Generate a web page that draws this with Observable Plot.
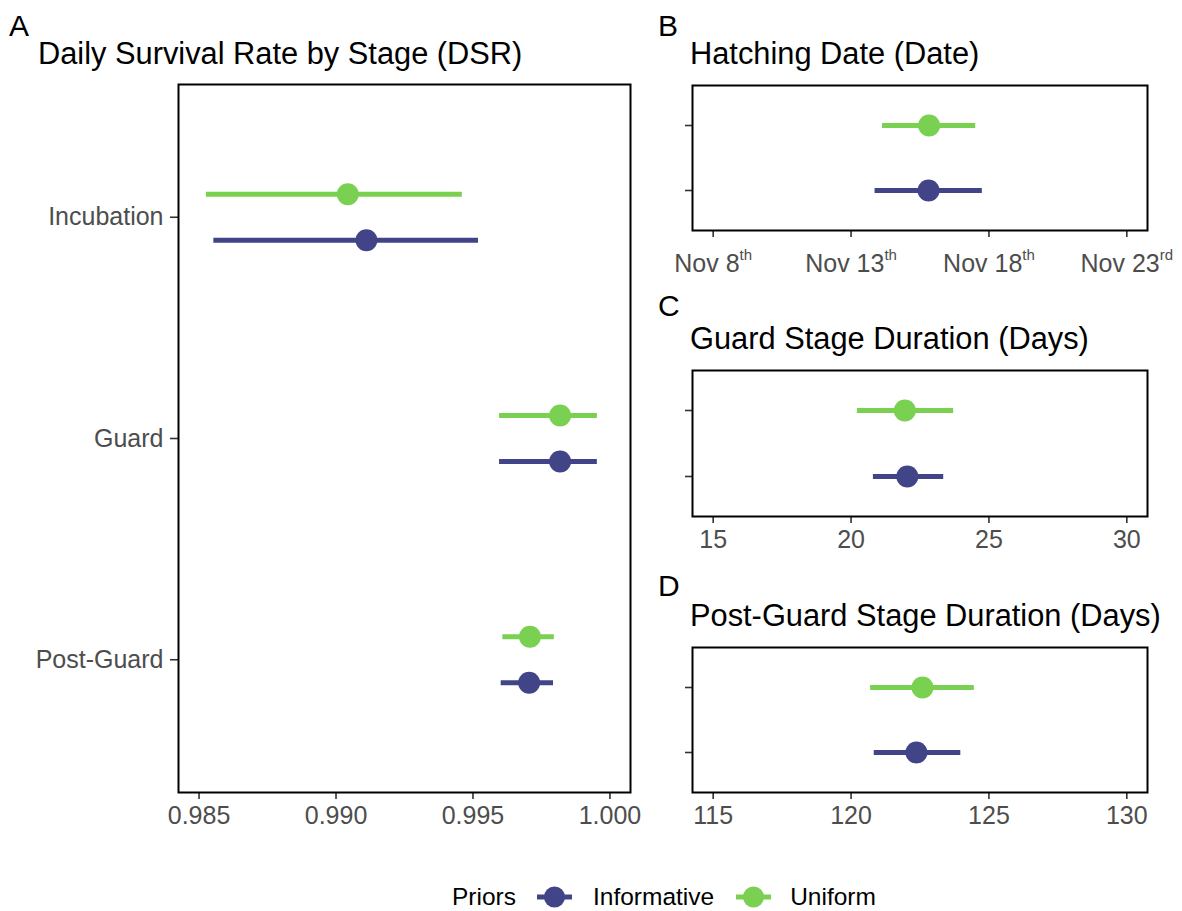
<!DOCTYPE html>
<html><head><meta charset="utf-8">
<script src="https://cdn.jsdelivr.net/npm/d3@7"></script>
<script src="https://cdn.jsdelivr.net/npm/@observablehq/plot@0.6"></script>
<style>
body{margin:0;background:#fff;font-family:"Liberation Sans",Arial,sans-serif;}
#wrap{position:relative;width:1182px;height:911px;overflow:hidden;background:#fff;}
.letter{font-size:30px;line-height:1;color:#000;}
.title{font-size:30.8px;line-height:1;color:#000;white-space:nowrap;}
#legend{position:absolute;left:452px;top:883px;height:28px;display:flex;align-items:center;font-size:24.5px;color:#000;line-height:1;white-space:nowrap;}
</style></head><body><div id="wrap"></div>
<script>
// ---------- data ----------
const priors = ["Informative", "Uniform"];
const priorColors = ["#414487", "#7AD151"];
const stages = ["Incubation", "Guard", "Post-Guard"];

// Panel A: daily survival rate by stage
const dsrStage = ["Incubation", "Incubation", "Guard", "Guard", "Post-Guard", "Post-Guard"];
const dsrPrior = ["Uniform", "Informative", "Uniform", "Informative", "Uniform", "Informative"];
const dsrMean = [0.99043, 0.99111, 0.99818, 0.99818, 0.99708, 0.99705];
const dsrLow  = [0.98527, 0.98554, 0.99597, 0.99597, 0.99609, 0.99603];
const dsrHigh = [0.99461, 0.99520, 0.99954, 0.99954, 0.99797, 0.99794];
const dsrTicks = [0.985, 0.990, 0.995, 1.000];

// Panel B: hatching date (day of November)
const hatchPrior = ["Uniform", "Informative"];
const hatchMean = [15.83, 15.81];
const hatchLow  = [14.14, 13.87];
const hatchHigh = [17.52, 17.76];
const hatchTicks = [8, 13, 18, 23];

// Panel C: guard stage duration (days)
const guardPrior = ["Uniform", "Informative"];
const guardMean = [21.95, 22.04];
const guardLow  = [20.23, 20.81];
const guardHigh = [23.72, 23.36];
const guardTicks = [15, 20, 25, 30];

// Panel D: post-guard stage duration (days)
const postPrior = ["Uniform", "Informative"];
const postMean = [122.59, 122.37];
const postLow  = [120.71, 120.84];
const postHigh = [124.47, 123.98];
const postTicks = [115, 120, 125, 130];

// ---------- helpers ----------
const wrap = document.getElementById("wrap");
const color = {domain: priors, range: priorColors};
const baseStyle = {fontFamily: "Liberation Sans, Arial, sans-serif", fontSize: "25px", color: "#4d4d4d", background: "transparent", overflow: "visible"};
const expand = (lo, hi) => { const e = (hi - lo) * 0.05; return [lo - e, hi + e]; };

function place(el, left, top) {
  el.style.position = "absolute";
  el.style.left = left + "px";
  el.style.top = top + "px";
  wrap.appendChild(el);
}
function styleTicks(svg) {
  svg.querySelectorAll('g[aria-label$="tick"]').forEach(g => { g.setAttribute("stroke-width", "1.6"); g.setAttribute("stroke", "#333"); });
  svg.querySelectorAll('g.tick line').forEach(l => { l.setAttribute("stroke-width", "1.6"); l.setAttribute("stroke", "#333"); });
}
function addText(cls, txt, left, top) {
  const d = document.createElement("div");
  d.className = cls; d.textContent = txt;
  place(d, left, top);
}

// ---------- Panel A ----------
const dodge = 0.104;
const dsrData = dsrStage.map((s, i) => ({
  stage: s, prior: dsrPrior[i],
  pos: stages.indexOf(s) + 1 + (dsrPrior[i] === "Uniform" ? -dodge : dodge),
  mean: dsrMean[i], lo: dsrLow[i], hi: dsrHigh[i]
}));
const plotA = Plot.plot({
  width: 640, height: 757, marginLeft: 178, marginRight: 10, marginTop: 4, marginBottom: 45,
  style: baseStyle,
  x: {domain: expand(dsrTicks[0], dsrTicks[dsrTicks.length - 1]), ticks: dsrTicks, tickFormat: d3.format(".3f"), label: null, tickSize: 7, tickPadding: 7},
  y: {domain: [0.4, stages.length + 0.6], reverse: true, ticks: stages.map((s, i) => i + 1), tickFormat: d => stages[Math.round(d) - 1], label: null, tickSize: 8, tickPadding: 7},
  color,
  marks: [
    Plot.ruleY(dsrData, {y: "pos", x1: "lo", x2: "hi", stroke: "prior", strokeWidth: 5}),
    Plot.dot(dsrData, {x: "mean", y: "pos", fill: "prior", r: 11}),
    Plot.frame({stroke: "#000", strokeWidth: 2})
  ]
});
styleTicks(plotA);
place(plotA, 0, 80);

// ---------- small panels ----------
function smallPanel(rows, xopts, height, marginBottom) {
  return Plot.plot({
    width: 522, height, marginLeft: 32, marginRight: 35, marginTop: 5, marginBottom,
    style: baseStyle,
    x: Object.assign({label: null, tickSize: 7, tickPadding: 7}, xopts),
    y: {type: "point", domain: ["Uniform", "Informative"], padding: 0.6, tickFormat: () => "", label: null, tickSize: 7},
    color,
    marks: [
      Plot.ruleY(rows, {y: "prior", x1: "lo", x2: "hi", stroke: "prior", strokeWidth: 5}),
      Plot.dot(rows, {x: "mean", y: "prior", fill: "prior", r: 11}),
      Plot.frame({stroke: "#000", strokeWidth: 2})
    ]
  });
}
const novDate = d => new Date(Date.UTC(2019, 10, 1) + (d - 1) * 864e5);
const ordinal = n => { const t = n % 100; if (t >= 11 && t <= 13) return "th"; return ({1: "st", 2: "nd", 3: "rd"})[n % 10] || "th"; };

// B
const hatchRows = hatchPrior.map((p, i) => ({prior: p, mean: novDate(hatchMean[i]), lo: novDate(hatchLow[i]), hi: novDate(hatchHigh[i])}));
const hd = expand(hatchTicks[0], hatchTicks[hatchTicks.length - 1]);
const plotB = smallPanel(hatchRows, {type: "utc", domain: [novDate(hd[0]), novDate(hd[1])], ticks: hatchTicks.map(novDate), tickFormat: d => "Nov " + d.getUTCDate() + ordinal(d.getUTCDate()), tickPadding: 17}, 205, 55);
styleTicks(plotB);
plotB.querySelectorAll("text").forEach(t => {
  const m = /^(Nov \d+)(st|nd|rd|th)$/.exec(t.textContent);
  if (!m) return;
  t.textContent = m[1];
  const ts = document.createElementNS("http://www.w3.org/2000/svg", "tspan");
  ts.setAttribute("dy", "-12");
  ts.setAttribute("font-size", "15px");
  ts.textContent = m[2];
  t.appendChild(ts);
});
place(plotB, 660, 80);

// C
const guardRows = guardPrior.map((p, i) => ({prior: p, mean: guardMean[i], lo: guardLow[i], hi: guardHigh[i]}));
const plotC = smallPanel(guardRows, {domain: expand(guardTicks[0], guardTicks[guardTicks.length - 1]), ticks: guardTicks}, 196, 45);
styleTicks(plotC);
place(plotC, 660, 365);

// D
const postRows = postPrior.map((p, i) => ({prior: p, mean: postMean[i], lo: postLow[i], hi: postHigh[i]}));
const plotD = smallPanel(postRows, {domain: expand(postTicks[0], postTicks[postTicks.length - 1]), ticks: postTicks}, 195, 45);
styleTicks(plotD);
place(plotD, 660, 642);

// ---------- titles ----------
addText("letter", "A", 9, 11);
addText("title", "Daily Survival Rate by Stage (DSR)", 38, 39);
addText("letter", "B", 658, 11);
addText("title", "Hatching Date (Date)", 690, 39);
addText("letter", "C", 658, 291);
addText("title", "Guard Stage Duration (Days)", 690, 324);
addText("letter", "D", 658, 571);
addText("title", "Post-Guard Stage Duration (Days)", 690, 601);

// ---------- legend ----------
const legend = document.createElement("div");
legend.id = "legend";
const lt = document.createElement("span");
lt.textContent = "Priors";
lt.style.marginRight = "21px";
legend.appendChild(lt);
priors.forEach((p, i) => {
  const ns = "http://www.w3.org/2000/svg";
  const s = document.createElementNS(ns, "svg");
  s.setAttribute("width", 35); s.setAttribute("height", 26);
  s.style.marginRight = (i === 0 ? 21 : 19) + "px";
  const l = document.createElementNS(ns, "line");
  l.setAttribute("x1", 0); l.setAttribute("x2", 35); l.setAttribute("y1", 13); l.setAttribute("y2", 13);
  l.setAttribute("stroke", priorColors[i]); l.setAttribute("stroke-width", 5);
  const c = document.createElementNS(ns, "circle");
  c.setAttribute("cx", 17.5); c.setAttribute("cy", 13); c.setAttribute("r", 10.5); c.setAttribute("fill", priorColors[i]);
  s.appendChild(l); s.appendChild(c);
  legend.appendChild(s);
  const t = document.createElement("span");
  t.textContent = p;
  if (i < priors.length - 1) t.style.marginRight = "22px";
  legend.appendChild(t);
});
wrap.appendChild(legend);
</script>
</body></html>
